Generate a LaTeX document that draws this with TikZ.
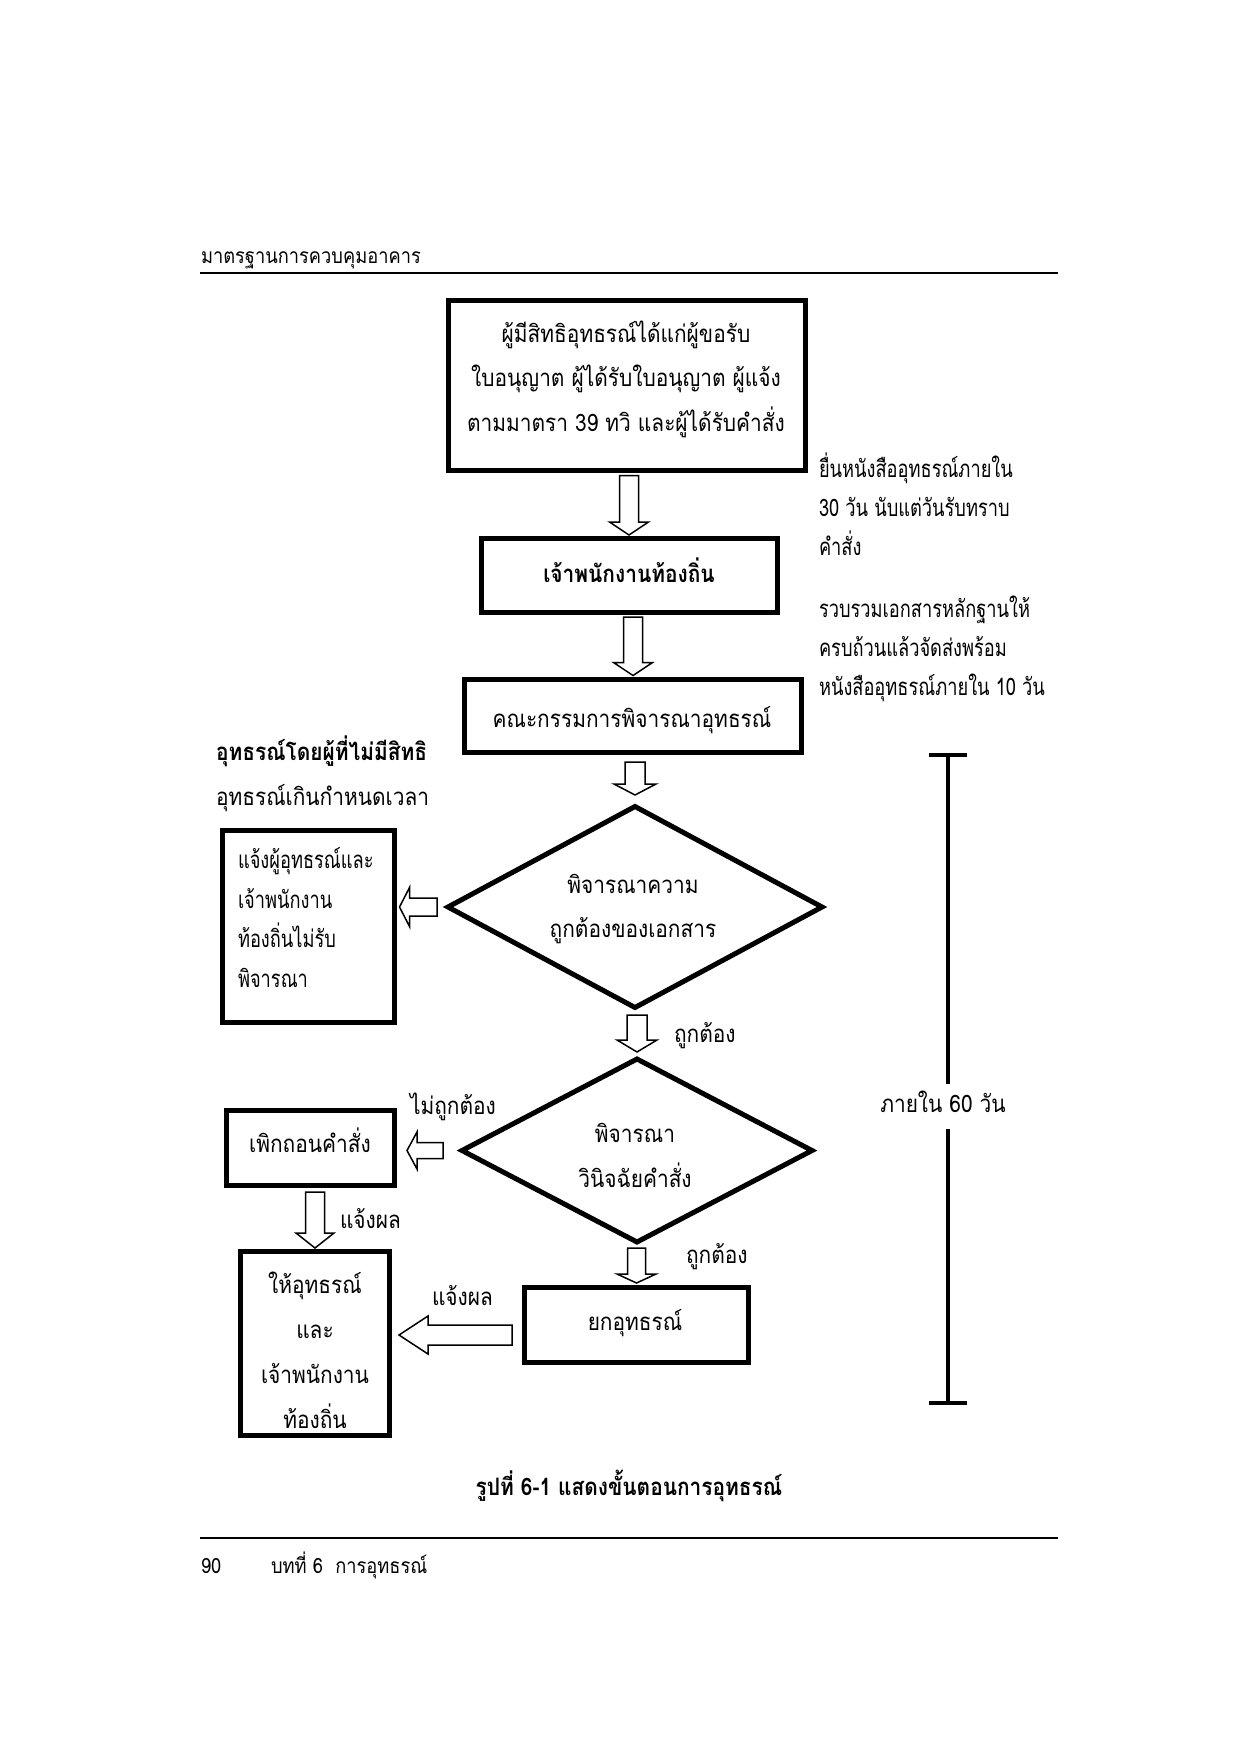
\documentclass[tikz,border=0pt]{standalone}
\usepackage{fontspec}
\setmainfont{Loma}[Script=Thai,FakeStretch=0.87]
\newfontfamily\narrowthai{Loma}[Script=Thai,FakeStretch=0.76]
\usetikzlibrary{shapes.geometric,calc}
\newcommand\blkdown[7]{%
  \draw[blockarrow] let \p1=(#1), \p2=(#2) in
   (\x2-#5pt,\y1-#3pt) -- (\x2+#5pt,\y1-#3pt) -- (\x2+#5pt,\y2+#4pt+#7pt)
   -- (\x2+#6pt,\y2+#4pt+#7pt) -- (\x2,\y2+#4pt) -- (\x2-#6pt,\y2+#4pt+#7pt)
   -- (\x2-#5pt,\y2+#4pt+#7pt) -- cycle;}
\newcommand\blkleft[7]{%
  \draw[blockarrow] let \p1=(#1), \p2=(#2) in
   (\x1-#3pt,\y1+#5pt) -- (\x2+#4pt+#7pt,\y1+#5pt) -- (\x2+#4pt+#7pt,\y1+#6pt)
   -- (\x2+#4pt,\y1) -- (\x2+#4pt+#7pt,\y1-#6pt) -- (\x2+#4pt+#7pt,\y1-#5pt)
   -- (\x1-#3pt,\y1-#5pt) -- cycle;}
\begin{document}
\begin{tikzpicture}[x=1pt,y=-1pt,
  font=\fontsize{24}{40}\selectfont,
  box/.style={draw,line width=5pt,outer sep=0pt,inner sep=0pt,line join=miter},
  dia/.style={draw,diamond,line width=5pt,outer sep=0pt,inner sep=0pt,line join=miter},
  txt/.style={inner sep=0pt,outer sep=0pt,align=center},
  ltxt/.style={inner sep=0pt,outer sep=0pt,align=left},
  blockarrow/.style={draw,fill=white,line width=1.5pt,line join=miter},
  rulestyle/.style={line width=2pt},
  bracketline/.style={line width=3.5pt},
  small/.style={font=\fontsize{21}{30}\selectfont}]
\useasboundingbox (0,0) rectangle (1240,1754);
\fill[white] (0,0) rectangle (1240,1754);
% header and footer
\node[ltxt,small,anchor=base west] (head) at (201,263) {มาตรฐานการควบคุมอาคาร};
\draw[rulestyle] (200,273) -- (1058,273);
\draw[rulestyle] (200,1538) -- (1058,1538);
\node[ltxt,small,anchor=base west] (pg) at (201,1573) {90};
\node[ltxt,small,anchor=base west] (chap) at (271,1573) {บทที่ 6\ \ การอุทธรณ์};
% boxes
\node[box,minimum width=357pt,minimum height=170pt] (b1) at (627,385) {};
\node[box,minimum width=296pt,minimum height=74pt] (b2) at (629,575.5) {};
\node[box,minimum width=337pt,minimum height=73pt] (b3) at (633,716) {};
\node[box,minimum width=172pt,minimum height=192pt] (b4) at (308,926.5) {};
\node[box,minimum width=168pt,minimum height=75pt] (b5) at (310,1148) {};
\node[box,minimum width=149pt,minimum height=184pt] (b6) at (315,1343.5) {};
\node[box,minimum width=224pt,minimum height=75pt] (b7) at (636.5,1325) {};
\node[dia,minimum width=374pt,minimum height=201pt] (d1) at (635,907) {};
\node[dia,minimum width=350pt,minimum height=183pt] (d2) at (637,1150.5) {};
% texts in boxes (base = last line)
\node[txt,anchor=base,font=\fontsize{24}{44.7}\selectfont] (t1) at (626,431.4) {ผู้มีสิทธิอุทธรณ์ได้แก่ผู้ขอรับ\\ใบอนุญาต ผู้ได้รับใบอนุญาต ผู้แจ้ง\\ตามมาตรา 39 ทวิ และผู้ได้รับคำสั่ง};
\node[txt,anchor=base,font=\fontsize{24}{40}\selectfont\bfseries] (t2) at (629,582) {เจ้าพนักงานท้องถิ่น};
\node[txt,anchor=base] (t3) at (632,727) {คณะกรรมการพิจารณาอุทธรณ์};
\node[ltxt,anchor=base west,font=\narrowthai\fontsize{24}{39.5}\selectfont] (t4) at (238,987) {แจ้งผู้อุทธรณ์และ\\เจ้าพนักงาน\\ท้องถิ่นไม่รับ\\พิจารณา};
\node[txt,anchor=base] (t5) at (310,1152) {เพิกถอนคำสั่ง};
\node[txt,anchor=base,font=\fontsize{24}{45}\selectfont] (t6) at (315,1428.5) {ให้อุทธรณ์\\และ\\เจ้าพนักงาน\\ท้องถิ่น};
\node[txt,anchor=base] (t7) at (635,1330) {ยกอุทธรณ์};
\node[txt,anchor=base,font=\fontsize{24}{43.6}\selectfont] (td1) at (633,937) {พิจารณาความ\\ถูกต้องของเอกสาร};
\node[txt,anchor=base,font=\fontsize{24}{44.7}\selectfont] (td2) at (635,1187) {พิจารณา\\วินิจฉัยคำสั่ง};
% side notes
\node[ltxt,anchor=base west,font=\narrowthai\fontsize{24}{39}\selectfont] (n1) at (819,555) {ยื่นหนังสืออุทธรณ์ภายใน\\30 วัน นับแต่วันรับทราบ\\คำสั่ง};
\node[ltxt,anchor=base west,font=\narrowthai\fontsize{24}{39}\selectfont] (n2) at (819,695) {รวบรวมเอกสารหลักฐานให้\\ครบถ้วนแล้วจัดส่งพร้อม\\หนังสืออุทธรณ์ภายใน 10 วัน};
\node[ltxt,anchor=base west,font=\fontsize{24}{45}\selectfont] (n3) at (216,805) {\textbf{อุทธรณ์โดยผู้ที่ไม่มีสิทธิ}\\อุทธรณ์เกินกำหนดเวลา};
\node[ltxt,anchor=base west] (l1) at (674,1042) {ถูกต้อง};
\node[ltxt,anchor=base west] (l2) at (410,1114) {ไม่ถูกต้อง};
\node[ltxt,anchor=base west] (l3) at (340,1228) {แจ้งผล};
\node[ltxt,anchor=base west] (l4) at (432,1305) {แจ้งผล};
\node[ltxt,anchor=base west] (l5) at (686,1263) {ถูกต้อง};
% block arrows
\blkdown{b1.south}{b2.north}{5.5}{3.5}{9.5}{19.5}{13}
\blkdown{b2.south}{b3.north}{4.5}{4}{9.5}{19.5}{13}
\blkdown{b3.south}{d1.north}{9.5}{11.5}{10}{21}{11}
\blkdown{d1.south}{d2.north}{7.5}{7}{10}{20}{12}
\blkdown{d2.south}{b7.north}{6}{4.5}{9}{19.5}{9}
\blkdown{b5.south}{b6.north}{6.5}{3.5}{9.5}{19}{15}
\blkleft{d1.west}{b4.east}{11}{5.5}{9}{19.5}{10}
\blkleft{d2.west}{b5.east}{19}{13}{8}{18.5}{10}
\coordinate (l3s) at ($(b7.west)+(0,10)$);
\blkleft{l3s}{b6.east}{12.5}{9.5}{10}{19}{29}
% 60-day bracket
\coordinate (bt) at (948,755);
\coordinate (bb) at (948,1403);
\node[txt,anchor=base,text height=20pt,text depth=8pt,inner ysep=8.5pt] (t60) at (943,1112) {ภายใน 60 วัน};
\draw[bracketline] (bt) -- (t60.north -| bt);
\draw[bracketline] (t60.south -| bb) -- (bb);
\draw[bracketline] ($(bt)+(-19,0)$) -- ($(bt)+(19,0)$);
\draw[bracketline] ($(bb)+(-19,0)$) -- ($(bb)+(19,0)$);
% caption
\node[txt,anchor=base,font=\fontsize{24}{40}\selectfont\bfseries] (cap) at (629,1495) {รูปที่ 6-1 แสดงขั้นตอนการอุทธรณ์};
\end{tikzpicture}
\end{document}
